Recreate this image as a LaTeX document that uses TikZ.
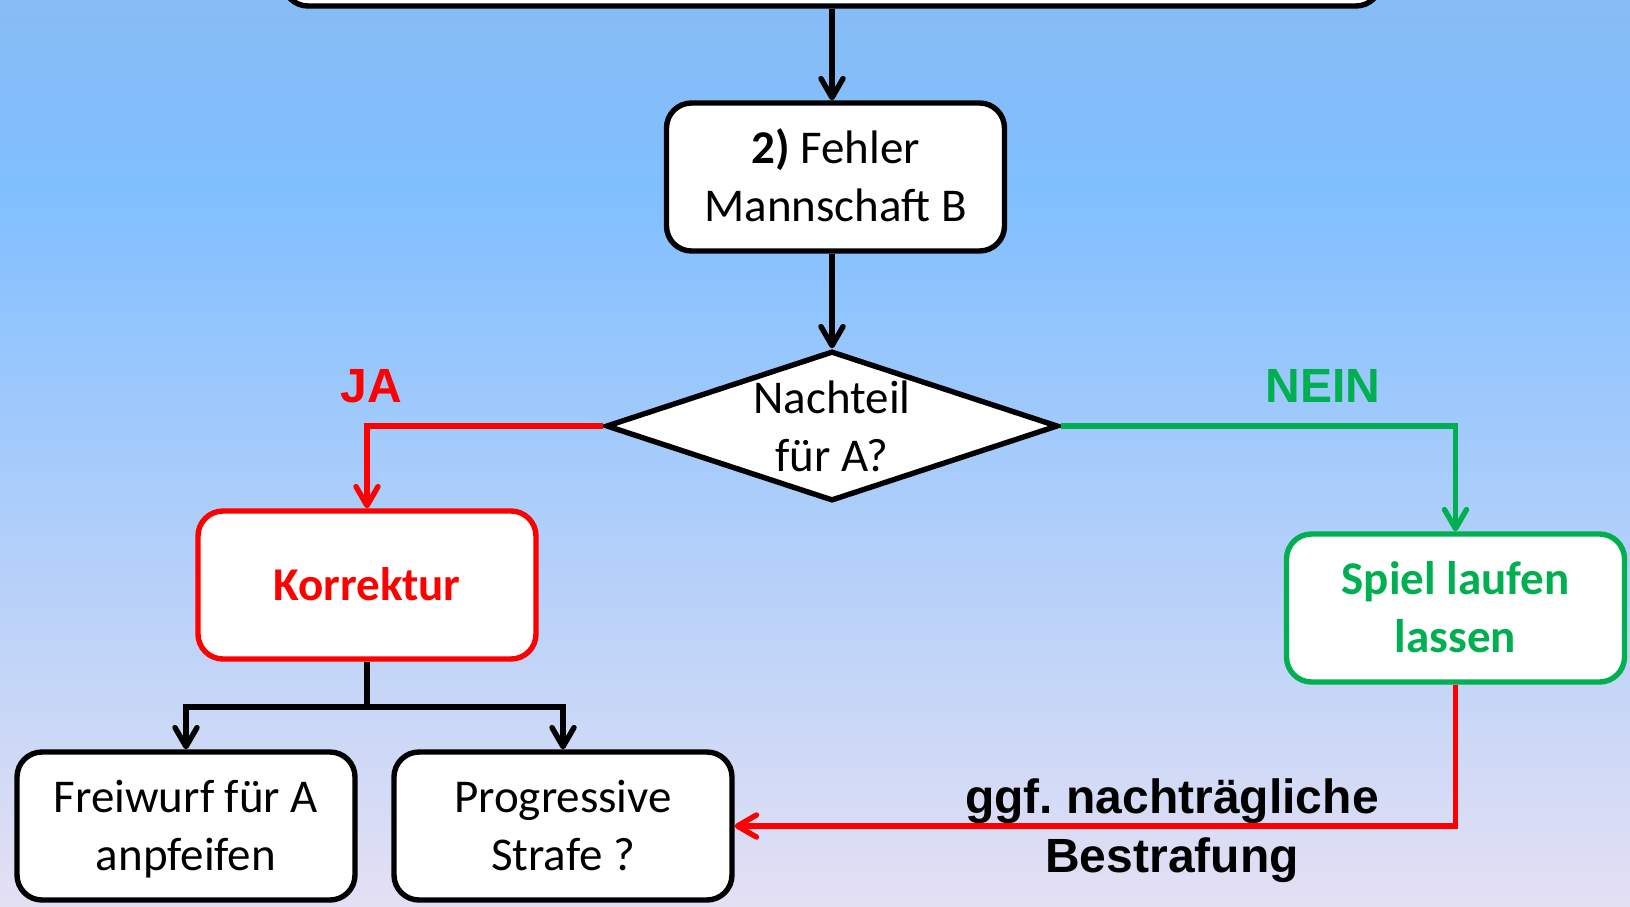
\documentclass[tikz,border=0pt]{standalone}
\usepackage{fontspec}
\setmainfont{Carlito}
\newfontfamily\arialfont{Liberation Sans}
\usetikzlibrary{arrows.meta,shapes.geometric}
\definecolor{bgtop}{RGB}{135,188,245}
\definecolor{bgmid}{RGB}{128,191,255}
\definecolor{bgbot}{RGB}{228,224,244}
\definecolor{pgreen}{RGB}{0,176,80}
\definecolor{pred}{RGB}{255,0,0}
\newcommand\boxstrut{\vrule width 0pt height 42pt depth 11pt}
\tikzset{
  box/.style={draw=black, fill=white, line width=5.4pt, rounded corners=25pt,
    minimum width=338pt, minimum height=148pt, align=center, inner sep=0pt,
    font=\fontsize{47}{57.5}\selectfont},
  conn/.style={line width=5.4pt, line join=miter},
  arr/.style={conn, -{Straight Barb[length=19pt,width=22pt,round]}},
  lbl/.style={font=\arialfont\bfseries\fontsize{48}{59}\selectfont, align=center, inner sep=0pt}
}
\begin{document}
\frenchspacing
\begin{tikzpicture}[x=1pt,y=-1pt]
\useasboundingbox (0,0) rectangle (1630,906);
\clip (0,0) rectangle (1630,906);
\shade[top color=bgtop, bottom color=bgmid] (0,0) rectangle (1630,190);
\shade[top color=bgmid, bottom color=bgbot] (0,190) rectangle (1630,906);

\node[box, minimum width=1098pt, minimum height=212pt] (top) at (832,-100) {};
\node[box] (b2) at (835.5,177) {\boxstrut\textbf{2)} Fehler\\\boxstrut Mannschaft B};
\node[diamond, draw=black, fill=white, line width=5.4pt, minimum width=452pt,
  minimum height=150pt, inner sep=0pt] (dia) at (832,426) {};
\node[align=center, inner sep=0pt, font=\fontsize{47}{57.5}\selectfont] (diat) at (832,427) {\boxstrut Nachteil\\\boxstrut für A?};

\node[box, draw=pred, text=pred, font=\bfseries\fontsize{47}{57.5}\selectfont] (kor) at (367,585) {\boxstrut Korrektur};
\node[box, draw=pgreen, text=pgreen, font=\bfseries\fontsize{47}{57.5}\selectfont] (spiel) at (1455.5,608) {\boxstrut Spiel laufen\\\boxstrut lassen};
\node[box] (frei) at (186,826) {\boxstrut Freiwurf für A\\\boxstrut anpfeifen};
\node[box] (prog) at (563,826) {\boxstrut Progressive\\\boxstrut Strafe ?};

\node[lbl, text=pred, anchor=base] (ja) at (371,402) {JA};
\node[lbl, text=pgreen, anchor=base] (nein) at (1323,402) {NEIN};
\node[lbl] (nach) at (1172,831) {ggf. nachträgliche\\Bestrafung};

\draw[arr] (top.south -| dia.north) -- (b2.north -| dia.north);
\draw[arr] (b2.south -| dia.north) -- (dia.north);
\draw[arr, draw=pred] (dia.west) -| (kor.north);
\draw[arr, draw=pgreen] (dia.east) -| (spiel.north);
\coordinate (fork) at (367,707);
\draw[conn] (kor.south) -- (fork);
\draw[arr] (fork) -| (frei.north);
\draw[arr] (fork) -| (prog.north);
\draw[arr, draw=pred] (spiel.south) |- (prog.east);
\end{tikzpicture}
\end{document}
